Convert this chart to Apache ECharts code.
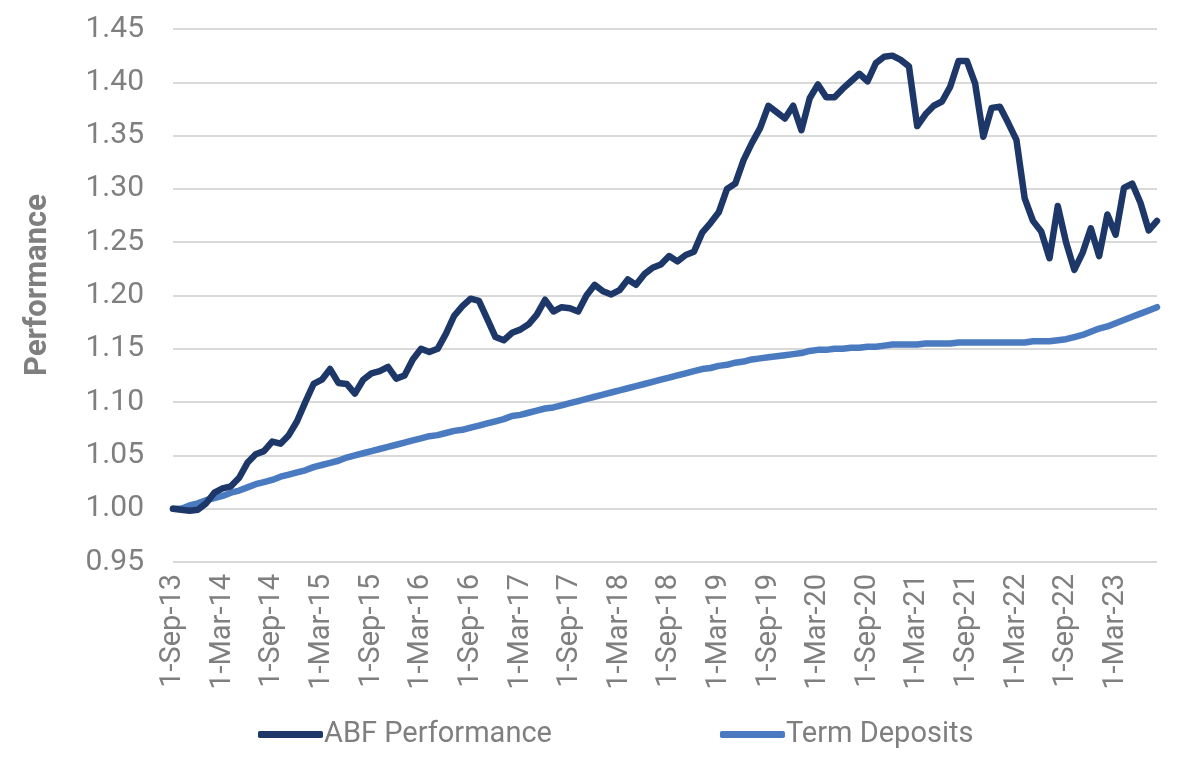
<!DOCTYPE html>
<html>
<head>
<meta charset="utf-8">
<script src="https://cdn.jsdelivr.net/npm/echarts@6/dist/echarts.min.js"></script>
<style>
html,body{margin:0;padding:0;background:#fff;}
#chart{width:1189px;height:766px;}
</style>
</head>
<body>
<div id="chart"></div>
<script>
// Monthly categories: 1-Sep-13 .. 1-Aug-23
var monthNames = ['Jan','Feb','Mar','Apr','May','Jun','Jul','Aug','Sep','Oct','Nov','Dec'];
var startYear = 2013, startMonth = 8, monthCount = 120;
var categories = [];
for (var k = 0; k < monthCount; k++) {
  var m = (startMonth + k) % 12;
  var y = startYear + Math.floor((startMonth + k) / 12);
  categories.push('1-' + monthNames[m] + '-' + String(y % 100).padStart(2, '0'));
}

var abfPerformance = [
  1.000, 0.999, 0.998, 0.999, 1.005, 1.015, 1.019, 1.021, 1.029, 1.043,
  1.051, 1.054, 1.063, 1.061, 1.069, 1.082, 1.100, 1.117, 1.121, 1.131,
  1.118, 1.117, 1.108, 1.121, 1.127, 1.129, 1.133, 1.122, 1.125, 1.140,
  1.150, 1.147, 1.150, 1.164, 1.181, 1.190, 1.197, 1.195, 1.178, 1.161,
  1.158, 1.165, 1.168, 1.173, 1.182, 1.196, 1.185, 1.189, 1.188, 1.185,
  1.200, 1.210, 1.204, 1.201, 1.205, 1.215, 1.210, 1.220, 1.226, 1.229,
  1.237, 1.232, 1.238, 1.241, 1.259, 1.268, 1.278, 1.300, 1.305, 1.327,
  1.343, 1.357, 1.378, 1.372, 1.366, 1.378, 1.355, 1.385, 1.398, 1.386,
  1.386, 1.394, 1.401, 1.408, 1.401, 1.418, 1.424, 1.425, 1.421, 1.415,
  1.359, 1.370, 1.378, 1.382, 1.396, 1.420, 1.420, 1.399, 1.349, 1.376,
  1.377, 1.362, 1.346, 1.291, 1.270, 1.260, 1.235, 1.284, 1.250, 1.224,
  1.240, 1.263, 1.237, 1.276, 1.257, 1.301, 1.305, 1.287, 1.261, 1.270
];

var termDeposits = [
  1.000, 1.000, 1.003, 1.005, 1.008, 1.010, 1.012, 1.015, 1.017, 1.020,
  1.023, 1.025, 1.027, 1.030, 1.032, 1.034, 1.036, 1.039, 1.041, 1.043,
  1.045, 1.048, 1.050, 1.052, 1.054, 1.056, 1.058, 1.060, 1.062, 1.064,
  1.066, 1.068, 1.069, 1.071, 1.073, 1.074, 1.076, 1.078, 1.080, 1.082,
  1.084, 1.087, 1.088, 1.090, 1.092, 1.094, 1.095, 1.097, 1.099, 1.101,
  1.103, 1.105, 1.107, 1.109, 1.111, 1.113, 1.115, 1.117, 1.119, 1.121,
  1.123, 1.125, 1.127, 1.129, 1.131, 1.132, 1.134, 1.135, 1.137, 1.138,
  1.140, 1.141, 1.142, 1.143, 1.144, 1.145, 1.146, 1.148, 1.149, 1.149,
  1.150, 1.150, 1.151, 1.151, 1.152, 1.152, 1.153, 1.154, 1.154, 1.154,
  1.154, 1.155, 1.155, 1.155, 1.155, 1.156, 1.156, 1.156, 1.156, 1.156,
  1.156, 1.156, 1.156, 1.156, 1.157, 1.157, 1.157, 1.158, 1.159, 1.161,
  1.163, 1.166, 1.169, 1.171, 1.174, 1.177, 1.180, 1.183, 1.186, 1.189
];

var seriesNames = ['ABF Performance', 'Term Deposits'];
var yAxisTitle = 'Performance';

var textColor = '#7f7f7f';
var fontFamily = 'Roboto, "Liberation Sans", sans-serif';

var chart = echarts.init(document.getElementById('chart'), null, {renderer: 'canvas'});
chart.setOption({
  animation: false,
  backgroundColor: '#ffffff',
  grid: {left: 173, right: 32, top: 29, bottom: 204, containLabel: false},
  graphic: [{
    type: 'text',
    x: 38,
    y: 285,
    rotation: Math.PI / 2,
    style: {
      text: yAxisTitle,
      fill: textColor,
      font: 'bold 31px ' + fontFamily,
      align: 'center',
      verticalAlign: 'middle'
    }
  }],
  legend: {
    bottom: 12,
    left: 253,
    itemWidth: 65,
    itemHeight: 7,
    itemGap: 168,
    icon: 'roundRect',
    textStyle: {color: textColor, fontSize: 29, fontFamily: fontFamily, padding: [0,0,0,-4]},
    data: seriesNames
  },
  xAxis: {
    type: 'category',
    data: categories,
    boundaryGap: false,
    axisLine: {show: false},
    axisTick: {show: false},
    axisLabel: {
      interval: 5,
      rotate: 90,
      margin: 12,
      color: textColor,
      fontSize: 29,
      fontFamily: fontFamily
    },
    splitLine: {show: false}
  },
  yAxis: {
    type: 'value',
    min: 0.95,
    max: 1.45,
    interval: 0.05,
    axisLine: {show: false},
    axisTick: {show: false},
    axisLabel: {
      margin: 29,
      color: textColor,
      fontSize: 30,
      fontFamily: fontFamily,
      formatter: function (v) { return v.toFixed(2); }
    },
    splitLine: {lineStyle: {color: '#d9d9d9', width: 2}}
  },
  series: [
    {
      name: seriesNames[0],
      type: 'line',
      data: abfPerformance,
      showSymbol: false,
      symbol: 'none',
      color: '#1c3768',
      lineStyle: {color: '#1c3768', width: 6.5, cap: 'round', join: 'round'},
      z: 3
    },
    {
      name: seriesNames[1],
      type: 'line',
      data: termDeposits,
      showSymbol: false,
      symbol: 'none',
      color: '#4a7bc1',
      lineStyle: {color: '#4a7bc1', width: 6.5, cap: 'round', join: 'round'},
      z: 2
    }
  ]
});
</script>
</body>
</html>
